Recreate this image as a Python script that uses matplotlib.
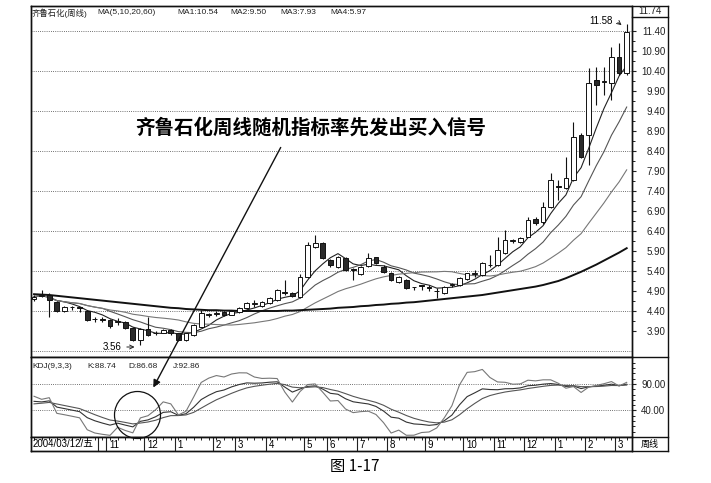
"""
齐鲁石化周线 K 线 + MA + KDJ，仿扫描书页图 1-17。
"""

import matplotlib
matplotlib.use('Agg')
import matplotlib.pyplot as plt
from matplotlib.lines import Line2D
from matplotlib.patches import Ellipse, FancyArrowPatch
import pandas as pd

plt.rcParams['font.family'] = ['Liberation Sans', 'Noto Sans CJK SC', 'DejaVu Sans']

# 周线数据
opens = [4.69, 4.78, 4.80, 4.63, 4.41, 4.50, 4.48, 4.41, 4.20, 4.20,
         4.17, 4.12, 4.12, 3.97, 3.68, 3.94, 3.85, 3.86, 3.92, 3.84,
         3.68, 3.80, 4.01, 4.30, 4.33, 4.37, 4.31, 4.38, 4.47, 4.58,
         4.52, 4.60, 4.68, 4.86, 4.84, 4.74, 5.26, 6.01, 6.09, 5.675,
         5.51, 5.72, 5.44, 5.33, 5.53, 5.74, 5.51, 5.34, 5.13, 5.18,
         5.00, 5.04, 4.99, 4.90, 4.84, 5.05, 5.05, 5.19, 5.33, 5.30,
         5.54, 5.55, 5.84, 6.15, 6.13, 6.26, 6.70, 6.62, 7.01, 7.53,
         7.47, 7.675, 8.80, 8.80, 10.175, 10.12, 10.09, 10.76, 10.34]
highs = [4.80, 4.92, 4.84, 4.66, 4.53, 4.52, 4.50, 4.43, 4.24, 4.26,
         4.19, 4.22, 4.15, 4.00, 3.97, 4.26, 3.89, 3.96, 3.94, 3.86,
         3.86, 4.07, 4.43, 4.36, 4.40, 4.40, 4.42, 4.49, 4.63, 4.68,
         4.65, 4.74, 4.95, 5.17, 4.87, 5.33, 6.13, 6.30, 6.12, 5.70,
         5.78, 5.76, 5.48, 5.53, 5.84, 5.76, 5.54, 5.37, 5.28, 5.21,
         5.01, 5.05, 5.05, 4.97, 5.03, 5.10, 5.24, 5.36, 5.43, 5.63,
         5.80, 6.26, 6.425, 6.20, 6.24, 6.76, 6.75, 7.13, 7.84, 7.675,
         8.26, 9.13, 8.85, 10.47, 10.51, 10.51, 11.01, 11.09, 11.58]
lows = [4.66, 4.74, 4.26, 4.38, 4.38, 4.42, 4.38, 4.15, 4.12, 4.12,
        3.98, 4.05, 3.94, 3.66, 3.56, 3.77, 3.80, 3.84, 3.80, 3.64,
        3.65, 3.78, 3.99, 4.24, 4.28, 4.28, 4.29, 4.36, 4.45, 4.50,
        4.50, 4.58, 4.66, 4.80, 4.74, 4.72, 5.22, 5.98, 5.70, 5.50,
        5.48, 5.40, 5.18, 5.30, 5.51, 5.58, 5.35, 5.15, 5.10, 4.94,
        4.92, 4.92, 4.90, 4.72, 4.82, 5.00, 5.03, 5.17, 5.26, 5.28,
        5.50, 5.52, 5.82, 6.10, 6.10, 6.24, 6.56, 6.58, 6.98, 7.18,
        7.45, 7.65, 8.22, 8.05, 9.55, 9.80, 9.68, 10.30, 10.30]
closes = [4.76, 4.80, 4.67, 4.41, 4.51, 4.49, 4.47, 4.18, 4.19, 4.18,
          4.02, 4.14, 3.97, 3.68, 3.94, 3.80, 3.84, 3.93, 3.84, 3.68,
          3.84, 4.05, 4.34, 4.31, 4.34, 4.31, 4.40, 4.47, 4.61, 4.59,
          4.63, 4.72, 4.92, 4.85, 4.78, 5.25, 6.05, 6.09, 5.72, 5.55,
          5.76, 5.43, 5.43, 5.51, 5.72, 5.61, 5.38, 5.18, 5.26, 4.97,
          4.99, 5.03, 4.98, 4.89, 5.01, 5.06, 5.22, 5.34, 5.34, 5.59,
          5.55, 5.925, 6.175, 6.16, 6.22, 6.675, 6.60, 7.01, 7.675, 7.50,
          7.72, 8.76, 8.26, 10.09, 10.05, 10.13, 10.76, 10.34, 11.38]
# 60 周均线（左端需要更早的数据，直接读图）
ma60 = [4.82, 4.81, 4.80, 4.78, 4.76, 4.74, 4.72, 4.70, 4.68, 4.66,
        4.64, 4.62, 4.60, 4.58, 4.56, 4.54, 4.52, 4.50, 4.48, 4.47,
        4.45, 4.44, 4.43, 4.42, 4.42, 4.41, 4.41, 4.40, 4.40, 4.40,
        4.40, 4.40, 4.40, 4.41, 4.41, 4.42, 4.43, 4.44, 4.45, 4.46,
        4.48, 4.49, 4.50, 4.52, 4.53, 4.55, 4.56, 4.58, 4.59, 4.61,
        4.62, 4.64, 4.66, 4.68, 4.70, 4.72, 4.74, 4.76, 4.78, 4.80,
        4.83, 4.86, 4.89, 4.92, 4.95, 4.98, 5.01, 5.05, 5.10, 5.15,
        5.22, 5.30, 5.38, 5.47, 5.56, 5.66, 5.76, 5.86, 5.97]

month_pos = [9.5, 14.5, 18.5, 23.5, 26.5, 30.5, 35.5, 38.5, 42.5,
             46.5, 51.5, 56.5, 60.5, 64.5, 68.5, 72.5, 76.5]
month_labels = ['11', '12', '1', '2', '3', '4', '5', '6', '7',
                '8', '9', '10', '11', '12', '1', '2', '3']
price_ticks = [3.90, 4.40, 4.90, 5.40, 5.90, 6.40, 6.90, 7.40,
               7.90, 8.40, 8.90, 9.40, 9.90, 10.40, 10.90, 11.40]
price_grid = [3.40, 4.40, 5.40, 6.40, 7.40, 8.40, 9.40, 10.40, 11.40]
kdj_ticks = [40, 90]

W, H = 711, 483
n = len(closes)
xs = list(range(n))

# 均线和 KDJ(9,3,3)
c = pd.Series(closes)
ma5 = c.rolling(5, min_periods=1).mean()
ma10 = c.rolling(10, min_periods=1).mean()
ma20 = c.rolling(20, min_periods=1).mean()

llv = pd.Series(lows).rolling(9, min_periods=1).min()
hhv = pd.Series(highs).rolling(9, min_periods=1).max()
rsv = (c - llv) / (hhv - llv) * 100
k_vals, d_vals = [], []
k, d = 50.0, 50.0
for r in rsv:
    k = 2 / 3 * k + r / 3
    d = 2 / 3 * d + k / 3
    k_vals.append(k)
    d_vals.append(d)
j_vals = [3 * a - 2 * b for a, b in zip(k_vals, d_vals)]


def box(x0, y0, x1, y1):
    return [x0 / W, 1 - y1 / H, (x1 - x0) / W, (y1 - y0) / H]


def fpt(x, y):
    return x / W, 1 - y / H


fig = plt.figure(figsize=(W / 100, H / 100), dpi=100)
fig.patch.set_facecolor('white')

ax = fig.add_axes(box(31, 6, 632, 357))
axk = fig.add_axes(box(31, 357, 632, 437))
axd = fig.add_axes(box(31, 437, 632, 451))

xlim = (-0.4, 78.7)
dot = (0, (1, 1.6))

# 主图：K 线
ax.set_xlim(*xlim)
ax.set_ylim(3.25, 12.025)
for g in price_grid:
    ax.axhline(g, color='#444', lw=0.6, ls=dot, zorder=1)

ax.vlines(xs, lows, highs, color='#111', lw=0.8, zorder=3)
bottoms = [min(o, cl) for o, cl in zip(opens, closes)]
heights = [max(abs(cl - o), 0.02) for o, cl in zip(opens, closes)]
faces = ['white' if cl >= o else '#2a2a2a' for o, cl in zip(opens, closes)]
ax.bar(xs, heights, bottom=bottoms, width=0.62, color=faces,
       edgecolor='#111', linewidth=0.7, zorder=4)

ax.plot(xs, ma5, color='#222', lw=0.8, zorder=2)
ax.plot(xs, ma10, color='#555', lw=0.8, zorder=2)
ax.plot(xs, ma20, color='#777', lw=0.8, zorder=2)
ax.plot(xs, ma60, color='#111', lw=1.4, zorder=2)

ax.yaxis.tick_right()
ax.set_yticks(price_ticks)
ax.set_yticklabels([f'{t:.2f}' for t in price_ticks])
ax.set_yticks([t + 0.25 for t in price_ticks[:-1]], minor=True)
ax.tick_params(axis='y', which='major', direction='out', length=3,
               width=0.8, pad=21, labelsize=7, colors='#222')
ax.tick_params(axis='y', which='minor', direction='out', length=2, width=0.6)
for lab in ax.get_yticklabels():
    lab.set_horizontalalignment('right')
ax.set_xticks([])

ax.annotate('11.58', xy=(77.6, 11.50), xytext=(74.6, 11.64),
            fontsize=7, ha='center', va='center',
            arrowprops=dict(arrowstyle='->', lw=0.7, color='#222',
                            connectionstyle='arc3,rad=-0.3'))
ax.annotate('3.56', xy=(13.6, 3.50), xytext=(9.0, 3.50),
            fontsize=7, ha='left', va='center',
            arrowprops=dict(arrowstyle='->', lw=0.7, color='#222'))

# 副图：KDJ
axk.set_xlim(*xlim)
axk.set_ylim(-10, 140.6)
for g in kdj_ticks:
    axk.axhline(g, color='#444', lw=0.6, ls=dot, zorder=1)
axk.plot(xs, k_vals, color='#333', lw=0.8)
axk.plot(xs, d_vals, color='#555', lw=0.8)
axk.plot(xs, j_vals, color='#777', lw=0.8)
axk.yaxis.tick_right()
axk.set_yticks(kdj_ticks)
axk.set_yticklabels([f'{t:.2f}' for t in kdj_ticks])
axk.set_yticks([0, 10, 20, 30, 50, 60, 70, 80, 100, 110, 120, 130], minor=True)
axk.tick_params(axis='y', which='major', direction='out', length=3,
                width=0.8, pad=21, labelsize=7, colors='#222')
axk.tick_params(axis='y', which='minor', direction='out', length=2, width=0.6)
for lab in axk.get_yticklabels():
    lab.set_horizontalalignment('right')
axk.set_xticks([])

# 日期轴
axd.set_xlim(*xlim)
axd.set_ylim(0, 1)
axd.set_yticks([])
axd.set_xticks(xs, minor=True)
axd.set_xticks([])
axd.tick_params(axis='x', which='minor', top=True, bottom=False,
                direction='in', length=2.5, width=0.6)
axd.vlines(month_pos, 0, 1, color='#222', lw=0.8)
for p, lab in zip(month_pos, month_labels):
    axd.text(p + 0.35, 0.45, lab, fontsize=7, ha='left', va='center')
axd.vlines([8.4], 0, 1, color='#222', lw=0.8)

for a in (ax, axk, axd):
    for s in a.spines.values():
        s.set_linewidth(1.0)
        s.set_color('#111')

# 外框与右侧栏
frame = [((31, 6), (668, 6)), ((31, 451), (668, 451)), ((31, 6), (31, 451)),
         ((668, 6), (668, 451)), ((632, 6), (632, 451)),
         ((31, 357), (668, 357)), ((31, 437), (668, 437)), ((632, 17), (668, 17))]
for (x0, y0), (x1, y1) in frame:
    p0, p1 = fpt(x0, y0), fpt(x1, y1)
    fig.add_artist(Line2D([p0[0], p1[0]], [p0[1], p1[1]], color='#111', lw=1.0))

fig.text(*fpt(650, 11.5), '11.74', fontsize=7, ha='center', va='center', color='#222')
fig.text(*fpt(650, 444), '周线', fontsize=6.5, ha='center', va='center')
fig.text(*fpt(33, 444), '2004/03/12/五', fontsize=7, ha='left', va='center')

# 标题栏文字
header = [(32, '齐鲁石化(周线)'), (97, 'MA(5,10,20,60)'), (177, 'MA1:10.54'),
          (230, 'MA2:9.50'), (280, 'MA3:7.93'), (330, 'MA4:5.97')]
for x, t in header:
    fig.text(*fpt(x, 13), t, fontsize=6, ha='left', va='center', color='#222')
kdj_header = [(32, 'KDJ(9,3,3)'), (87, 'K:88.74'), (128, 'D:86.68'), (173, 'J:92.86')]
for x, t in kdj_header:
    fig.text(*fpt(x, 367), t, fontsize=6, ha='left', va='center', color='#222')

# 说明文字、箭头、圆圈
fig.text(*fpt(311, 128), '齐鲁石化周线随机指标率先发出买入信号', fontsize=14,
         fontweight='bold', ha='center', va='center', family='Noto Sans CJK SC')
fig.add_artist(FancyArrowPatch(fpt(282, 145), fpt(152, 390),
                               transform=fig.transFigure, arrowstyle='-|>',
                               mutation_scale=11, color='#111', lw=1.0,
                               zorder=10))
fig.add_artist(Ellipse((1.375, (H - 415) / 100), 0.46, 0.47,
                       transform=fig.dpi_scale_trans, fill=False,
                       lw=0.9, color='#111', zorder=10))

fig.text(*fpt(355, 467), '图 1-17', fontsize=11, ha='center', va='center',
         family='Noto Sans CJK SC')

plt.savefig('out.png', dpi=100)
